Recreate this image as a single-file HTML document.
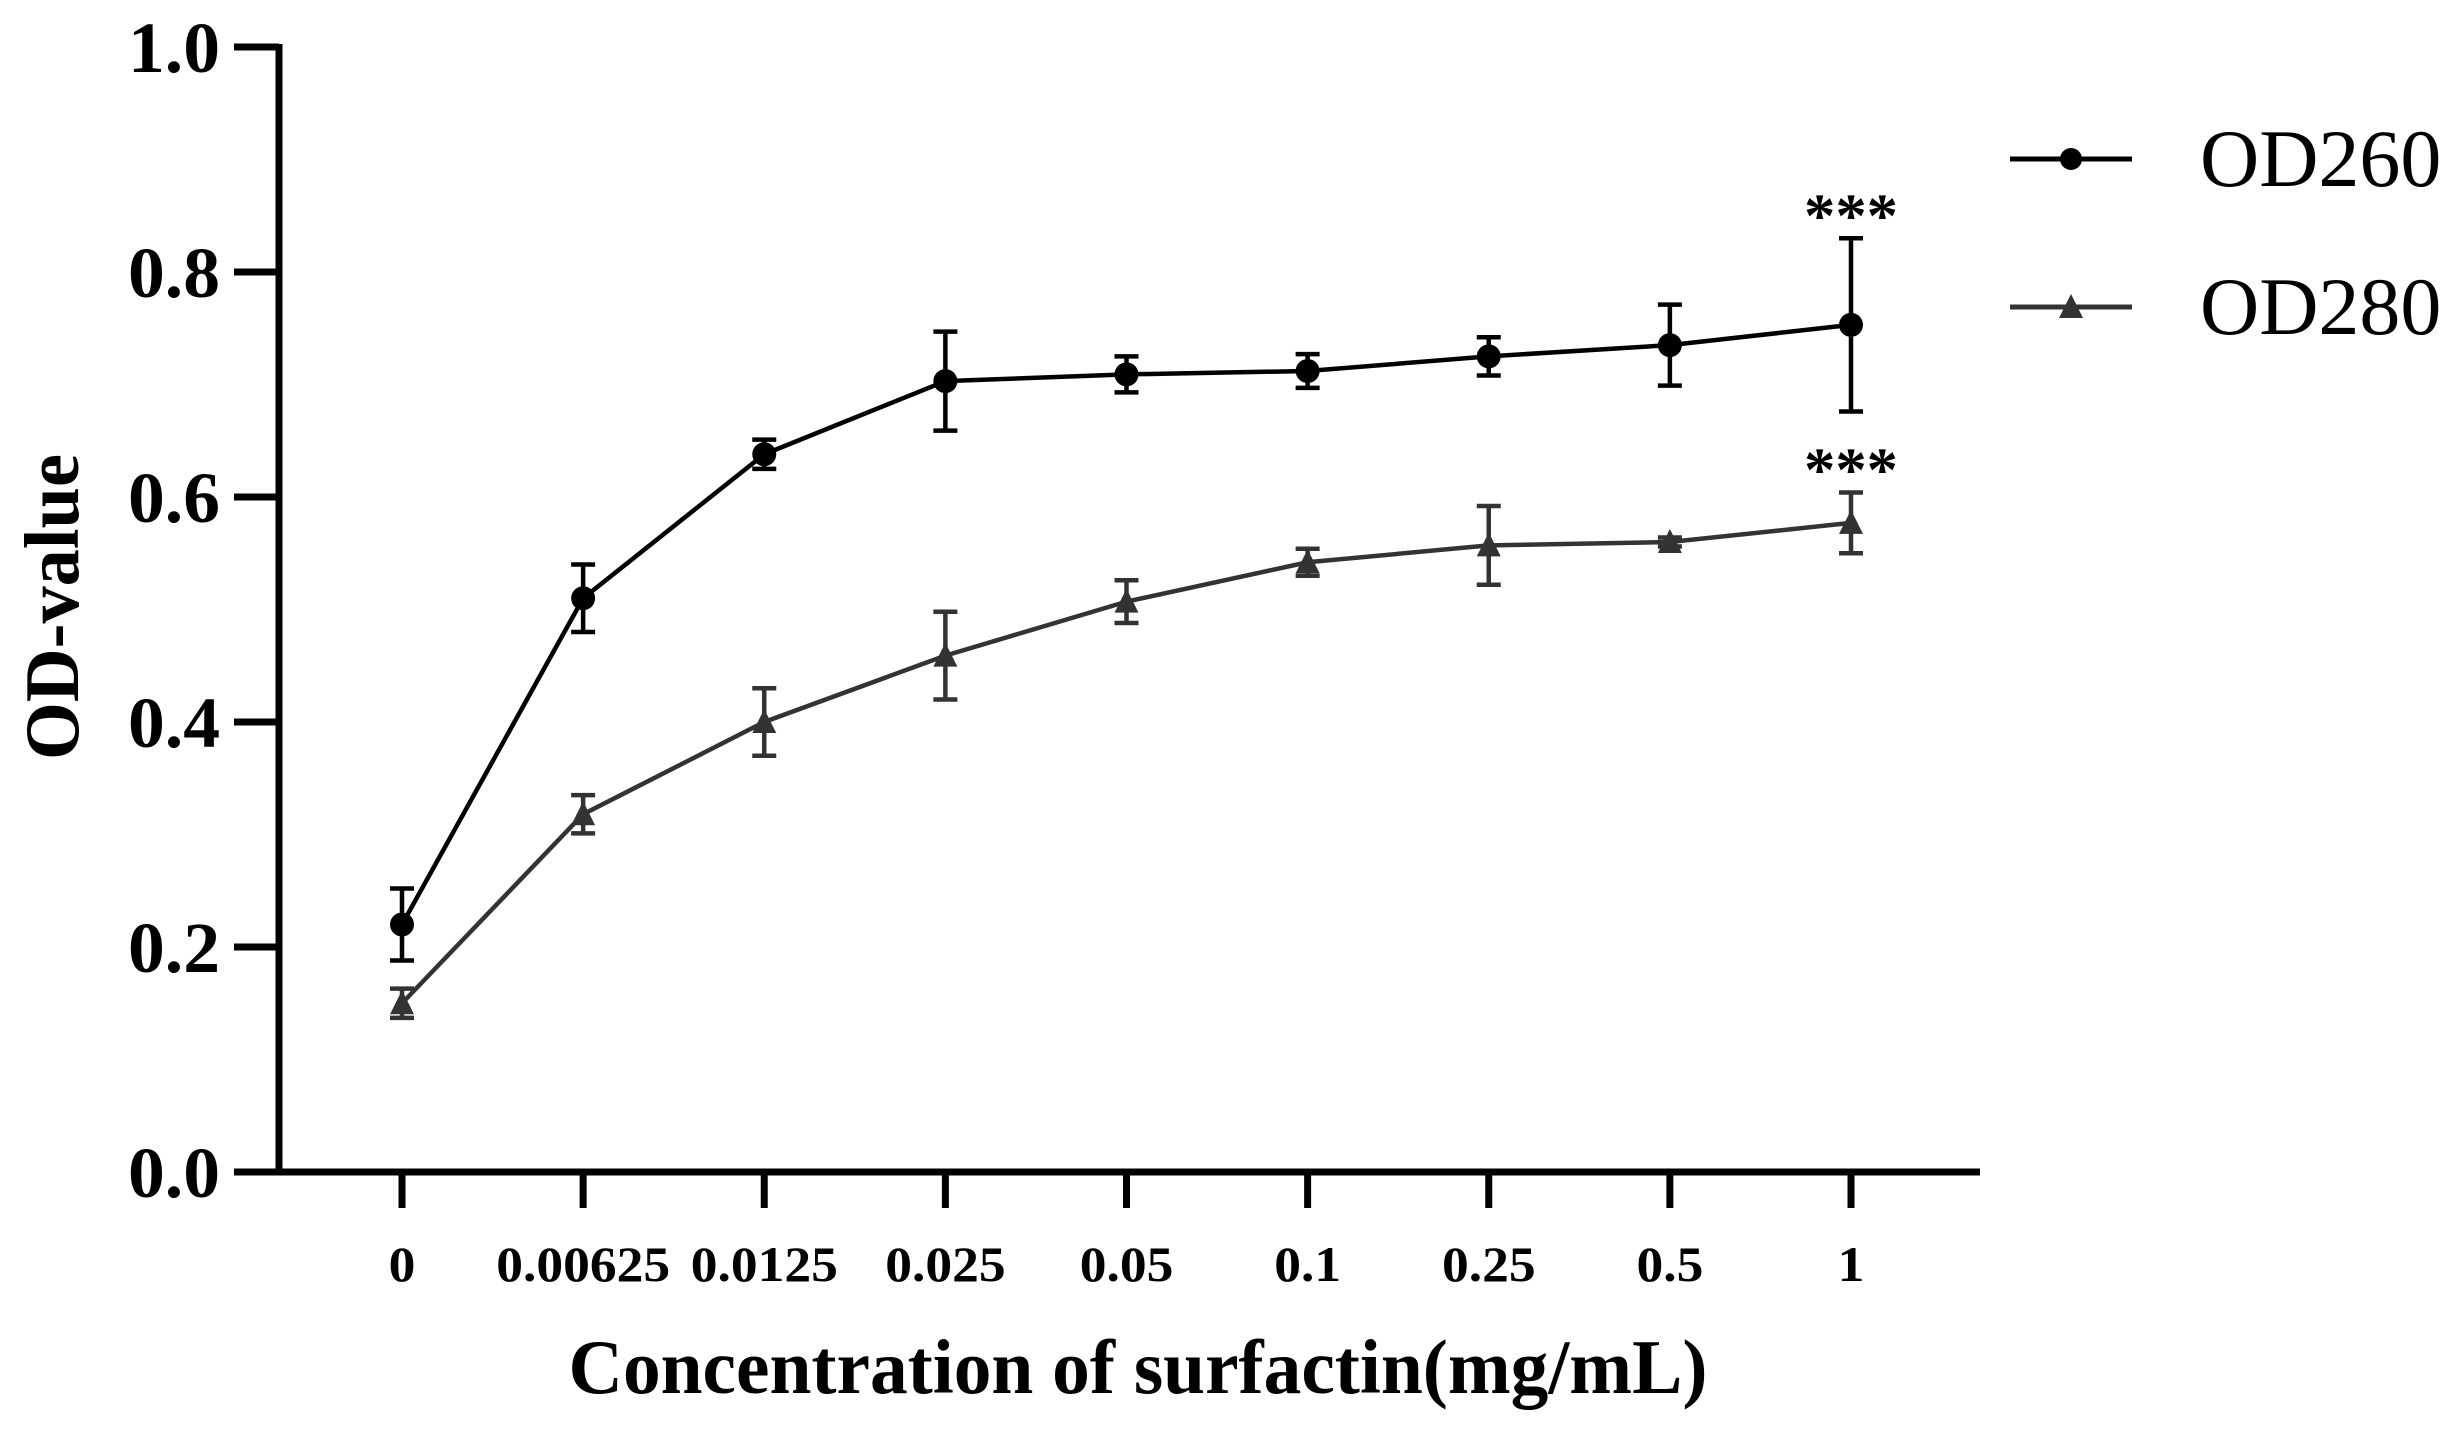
<!DOCTYPE html>
<html><head><meta charset="utf-8"><style>
html,body{margin:0;padding:0;background:#fff;}
svg{display:block;font-family:"Liberation Serif",serif;}
</style></head><body>
<svg id="chart" width="2460" height="1434" viewBox="0 0 2460 1434" xmlns="http://www.w3.org/2000/svg">
<g id="axes"></g><g id="series"></g>
<text x="0" y="0" transform="translate(78,607) rotate(-90)" text-anchor="middle" font-size="77" font-weight="bold" textLength="306" lengthAdjust="spacingAndGlyphs">OD-value</text>
<text x="1138" y="1393" text-anchor="middle" font-size="77" font-weight="bold" textLength="1139" lengthAdjust="spacingAndGlyphs">Concentration of surfactin(mg/mL)</text>
<g>
<g>
<line x1="2010" y1="159" x2="2132" y2="159" stroke="#000" stroke-width="5"/>
<circle cx="2071" cy="159" r="11" fill="#000"/>
<text x="2200" y="186" font-size="82">OD260</text></g>
<g>
<line x1="2010" y1="307" x2="2132" y2="307" stroke="#333" stroke-width="5"/>
<polygon points="2071,294 2083,318 2059,318" fill="#333"/>
<text x="2200" y="334" font-size="82">OD280</text></g>
</g>
</svg>
<script>
const categories=["0","0.00625","0.0125","0.025","0.05","0.1","0.25","0.5","1"];
const od260=[0.22,0.51,0.638,0.703,0.709,0.712,0.725,0.735,0.753];
const od260Err=[0.032,0.03,0.013,0.044,0.016,0.015,0.017,0.036,0.077];
const od280=[0.15,0.318,0.40,0.459,0.507,0.542,0.557,0.56,0.577];
const od280Err=[0.013,0.017,0.03,0.039,0.019,0.012,0.035,0.004,0.027];
const yTicks=[0,0.2,0.4,0.6,0.8,1.0];
const yTickLabels=["0.0","0.2","0.4","0.6","0.8","1.0"];
const sigLabels=["***","***"];

const NS="http://www.w3.org/2000/svg";
const X0=279,Y0=1172,Y1=47,XEND=1980,CX0=402,CX1=1851;
const xs=i=>CX0+i*(CX1-CX0)/(categories.length-1);
const ys=v=>Y0-(v)*(Y0-Y1);
function mk(tag,attrs,parent){const e=document.createElementNS(NS,tag);for(const k in attrs)e.setAttribute(k,attrs[k]);parent.appendChild(e);return e;}
const axes=document.getElementById('axes'),ser=document.getElementById('series');
let e=mk('line',{x1:X0,y1:Y1-3,x2:X0,y2:Y0+3,stroke:'#000','stroke-width':7},axes);


e=mk('line',{x1:X0-3,y1:Y0,x2:XEND,y2:Y0,stroke:'#000','stroke-width':7},axes);


yTicks.forEach((v,i)=>{
 const t=mk('line',{x1:234,y1:ys(v),x2:X0,y2:ys(v),stroke:'#000','stroke-width':7},axes);
 
 
 const l=mk('text',{x:220,y:ys(v)+25,'text-anchor':'end','font-size':72,'font-weight':'bold',textLength:92,lengthAdjust:'spacingAndGlyphs'},axes);
 l.textContent=yTickLabels[i];
 
 
});
categories.forEach((c,i)=>{
 const t=mk('line',{x1:xs(i),y1:Y0,x2:xs(i),y2:Y0+36,stroke:'#000','stroke-width':7},axes);
 
 
 const l=mk('text',{x:xs(i),y:1281,'text-anchor':'middle','font-size':50,'font-weight':'bold'},axes);
 l.textContent=c;
 
 
 const w=l.getComputedTextLength();
 l.setAttribute('textLength',w*1.07);
 l.setAttribute('lengthAdjust','spacingAndGlyphs');
});
function drawSeries(vals,errs,color,name,marker){
 const g=mk('g',{},ser);
 
 
 const p=mk('polyline',{points:vals.map((v,i)=>xs(i)+','+ys(v)).join(' '),fill:'none',stroke:color,'stroke-width':4.5},g);
 
 
 vals.forEach((v,i)=>{
  const x=xs(i),yt=ys(v+errs[i]),yb=ys(v-errs[i]);
  const eb=mk('path',{d:`M${x},${yt}V${yb}M${x-12},${yt}H${x+12}M${x-12},${yb}H${x+12}`,stroke:color,'stroke-width':4.5,fill:'none'},g);
  
  
  let m;
  if(marker==='circle') m=mk('circle',{cx:x,cy:ys(v),r:12,fill:color},g);
  else {const y=ys(v);m=mk('polygon',{points:`${x},${y-13} ${x+12},${y+11} ${x-12},${y+11}`,fill:color},g);}
  
  
 });
}
drawSeries(od280,od280Err,'#333','od280','triangle');
drawSeries(od260,od260Err,'#000','od260','circle');
[[od260,od260Err],[od280,od280Err]].forEach((s,k)=>{
 const n=categories.length-1;
 const t=mk('text',{x:xs(n),y:ys(s[0][n]+s[1][n])-2,'text-anchor':'middle','font-size':62,'font-weight':'bold',textLength:94,lengthAdjust:'spacingAndGlyphs'},ser);
 t.textContent=sigLabels[k];
 
 
});
</script>
</body></html>
